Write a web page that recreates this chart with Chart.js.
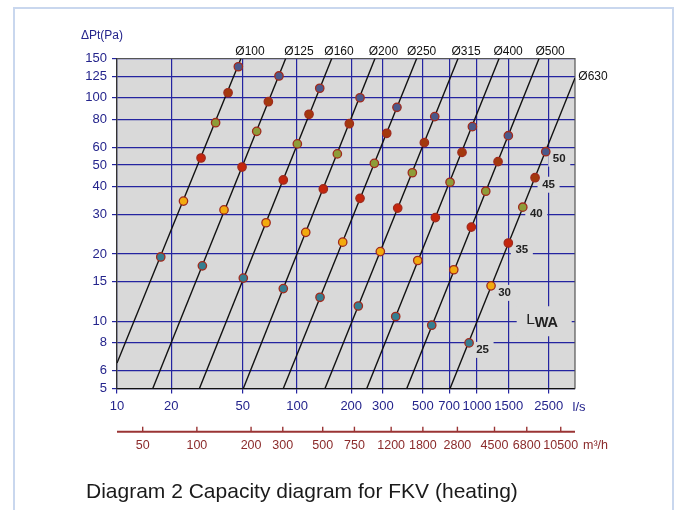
<!DOCTYPE html>
<html>
<head>
<meta charset="utf-8">
<script src="https://cdn.jsdelivr.net/npm/chart.js@4.4.0/dist/chart.umd.min.js"></script>
<style>
html,body{margin:0;padding:0;background:#fff;}
canvas{display:block;}
</style>
</head>
<body>
<canvas id="c" width="681" height="510"></canvas>
<script>
// ---- Data ----
const flowTicks = [10,20,50,100,200,300,500,700,1000,1500,2500];
const paTicks = [5,6,8,10,15,20,30,40,50,60,80,100,125,150];
const m3hTicks = [50,100,200,300,500,750,1200,1800,2800,4500,6800,10500];

const diameters = ['Ø100','Ø125','Ø160','Ø200','Ø250','Ø315','Ø400','Ø500','Ø630'];
const lineStartFlow = [10, 15.8, 28.7, 50.3, 83.9, 143, 244, 407, 708];
const lineStartPa   = [6.5, 5, 5, 5, 5, 5, 5, 5, 5];
const lineEndFlow   = [48.8, 86.5, 155.9, 271, 462, 784, 1325, 2210, 3500];
const lineEndPa     = [150, 150, 150, 150, 150, 150, 150, 150, 122.7];
const diameterLabelFlow = [54.8, 102.6, 171, 302, 492, 869, 1487, 2544];

const lwaLevels = [25, 30, 35, 40, 45, 50];
const lwa25Flow = [17.5, 29.8, 50.3, 83.9, 134.2, 219, 353.4, 560.2, 903];
const lwa25Pa   = [19.4, 17.7, 15.6, 14.0, 12.8, 11.7, 10.5, 9.6, 8.0];
const lwa30Flow = [23.4, 39.3, 67.3, 111.8, 179.4, 290.2, 468.4, 742.4, 1196];
const lwa30Pa   = [34.5, 31.5, 27.6, 25.0, 22.6, 20.5, 18.7, 17.0, 14.4];
const lwa35Flow = [29.3, 49.5, 83.9, 140, 223.9, 362.5, 586.6, 929.6, 1492];
const lwa35Pa   = [53.8, 49.0, 42.9, 39.1, 35.5, 32.1, 29.1, 26.4, 22.4];
const lwa40Flow = [35.3, 59.7, 100.4, 167.5, 268.9, 437, 708, 1118, 1795];
const lwa40Pa   = [77.4, 70.8, 62.2, 56.1, 50.9, 46.2, 41.9, 38.2, 32.4];
const lwa45Flow = [41.4, 69.3, 116.6, 195.2, 315, 509.6, 825, 1308, 2100];
const lwa45Pa   = [105.4, 96.1, 84.4, 76.6, 69.4, 63.0, 57.0, 51.8, 43.9];
const lwa50Flow = [47.2, 79.4, 133.7, 223.9, 359, 582, 942, 1492, 2408];
const lwa50Pa   = [137.8, 125.3, 110.4, 100.1, 90.7, 82.4, 74.3, 67.7, 57.4];

const lwaFlows = [lwa25Flow, lwa30Flow, lwa35Flow, lwa40Flow, lwa45Flow, lwa50Flow];
const lwaPas   = [lwa25Pa, lwa30Pa, lwa35Pa, lwa40Pa, lwa45Pa, lwa50Pa];
const lwaColors = ['#357e91', '#f2aa0e', '#c5260d', '#8e9c38', '#a3390d', '#4a598b'];

// ---- Styles ----
const FONT = "'Liberation Sans', Arial, sans-serif";
const GRID = '#2424a0';
const BLUE_TXT = '#24248c';
const RED_TXT = '#8b2b2b';
const PLOT_BG = '#d9d9d9';

const datasets = [];
lwaLevels.forEach((lv, i) => {
  datasets.push({
    type: 'scatter',
    label: 'LWA ' + lv,
    data: lwaFlows[i].map((f, j) => ({x: f, y: lwaPas[i][j]})),
    backgroundColor: lwaColors[i],
    borderColor: '#a02a1c',
    borderWidth: 1.3,
    pointRadius: 4.2,
    order: 0
  });
});
diameters.forEach((d, i) => {
  datasets.push({
    type: 'line',
    label: d,
    data: [{x: lineStartFlow[i], y: lineStartPa[i]}, {x: lineEndFlow[i], y: lineEndPa[i]}],
    borderColor: '#111',
    borderWidth: 1.4,
    pointRadius: 0,
    fill: false,
    order: 1
  });
});

const deco = {
  id: 'deco',
  beforeDraw(chart) {
    const {ctx, chartArea: a} = chart;
    ctx.save();
    ctx.fillStyle = '#fff';
    ctx.fillRect(0, 0, chart.width, chart.height);
    ctx.strokeStyle = '#c9d7ee';
    ctx.lineWidth = 2;
    ctx.strokeRect(14, 8, 659, 520);
    ctx.fillStyle = PLOT_BG;
    ctx.fillRect(a.left, a.top, a.right - a.left, a.bottom - a.top);
    ctx.restore();
  },
  beforeDatasetsDraw(chart) {
    const {ctx, chartArea: a, scales} = chart;
    const xs = scales.x, ys = scales.y;
    ctx.save();
    // top & right border
    ctx.strokeStyle = '#555';
    ctx.lineWidth = 1.2;
    ctx.beginPath();
    ctx.moveTo(a.left, a.top); ctx.lineTo(a.right, a.top); ctx.lineTo(a.right, a.bottom);
    ctx.stroke();
    // LWA level labels next to the last diameter line
    ctx.font = 'bold 11.5px ' + FONT;
    ctx.textAlign = 'center';
    ctx.textBaseline = 'middle';
    lwaLevels.forEach((lv, i) => {
      const n = lwaFlows[i].length - 1;
      const px = xs.getPixelForValue(lwaFlows[i][n]) + 13.5;
      const py = ys.getPixelForValue(lwaPas[i][n]) + 7;
      ctx.fillStyle = PLOT_BG;
      ctx.fillRect(px - 11, py - 8, 22, 16);
      ctx.fillStyle = '#222';
      ctx.fillText(String(lv), px, py);
    });
    // L_WA label
    const lx = xs.getPixelForValue(2500), ly = ys.getPixelForValue(10);
    ctx.fillStyle = PLOT_BG;
    ctx.fillRect(lx - 32, ly - 15, 55, 30);
    ctx.fillStyle = '#222';
    ctx.textAlign = 'left';
    ctx.textBaseline = 'alphabetic';
    ctx.font = '15.5px ' + FONT;
    ctx.fillText('L', lx - 22.5, ly + 2.5);
    ctx.font = 'bold 14.5px ' + FONT;
    ctx.fillText('WA', lx - 14, ly + 6);
    ctx.restore();
  },
  afterDraw(chart) {
    const {ctx, chartArea: a, scales} = chart;
    const xs = scales.x, ys = scales.y;
    ctx.save();
    // y axis title
    ctx.fillStyle = BLUE_TXT;
    ctx.font = '12px ' + FONT;
    ctx.textAlign = 'left';
    ctx.textBaseline = 'middle';
    ctx.fillText('\u0394Pt(Pa)', 81, 36);
    // diameter labels
    ctx.fillStyle = '#111';
    ctx.textAlign = 'center';
    diameterLabelFlow.forEach((f, i) => {
      ctx.fillText(diameters[i], xs.getPixelForValue(f), a.top - 6.5);
    });
    ctx.fillText(diameters[8], a.right + 18, ys.getPixelForValue(lineEndPa[8]) - 1);
    // unit l/s
    ctx.fillStyle = BLUE_TXT;
    ctx.font = '13px ' + FONT;
    ctx.fillText('l/s', a.right + 4, 407);
    // secondary axis m3/h
    const sy = 431.7;
    ctx.strokeStyle = '#9a3434';
    ctx.lineWidth = 2;
    ctx.beginPath();
    ctx.moveTo(a.left, sy); ctx.lineTo(a.right, sy); ctx.stroke();
    ctx.lineWidth = 1.4;
    ctx.fillStyle = RED_TXT;
    ctx.font = '12.5px ' + FONT;
    m3hTicks.forEach(v => {
      const px = xs.getPixelForValue(v / 3.6);
      ctx.beginPath(); ctx.moveTo(px, sy); ctx.lineTo(px, sy - 5); ctx.stroke();
      ctx.fillText(String(v), px, 446);
    });
    ctx.textAlign = 'left';
    ctx.fillText('m\u00b3/h', 583, 446);
    // caption
    ctx.fillStyle = '#1a1a1a';
    ctx.font = '21px ' + FONT;
    ctx.textBaseline = 'alphabetic';
    ctx.fillText('Diagram 2 Capacity diagram for FKV (heating)', 86, 498);
    ctx.restore();
  }
};

new Chart(document.getElementById('c'), {
  type: 'scatter',
  data: {datasets},
  options: {
    responsive: false,
    animation: false,
    devicePixelRatio: 1,
    layout: {padding: {left: 0, top: 58.5, right: 106, bottom: 91.5}},
    plugins: {legend: {display: false}, tooltip: {enabled: false}, title: {display: false}},
    scales: {
      x: {
        type: 'logarithmic',
        min: 10, max: 3500,
        afterBuildTicks: s => { s.ticks = flowTicks.map(v => ({value: v})); },
        afterFit: s => { s.height = 30; },
        ticks: {
          autoSkip: false, maxRotation: 0, minRotation: 0, padding: 5,
          color: BLUE_TXT, font: {family: FONT, size: 13},
          callback: v => String(v)
        },
        grid: {color: GRID, lineWidth: 1.2, tickLength: 5, drawTicks: true},
        border: {display: true, color: '#111', width: 1.3}
      },
      y: {
        type: 'logarithmic',
        min: 5, max: 150,
        afterBuildTicks: s => { s.ticks = paTicks.map(v => ({value: v})); },
        afterFit: s => { s.width = 117; },
        ticks: {
          autoSkip: false, padding: 5,
          color: BLUE_TXT, font: {family: FONT, size: 13},
          callback: v => String(v)
        },
        grid: {color: GRID, lineWidth: 1.2, tickLength: 5, drawTicks: true},
        border: {display: true, color: '#333', width: 1.3}
      }
    }
  },
  plugins: [deco]
});
</script>
</body>
</html>
